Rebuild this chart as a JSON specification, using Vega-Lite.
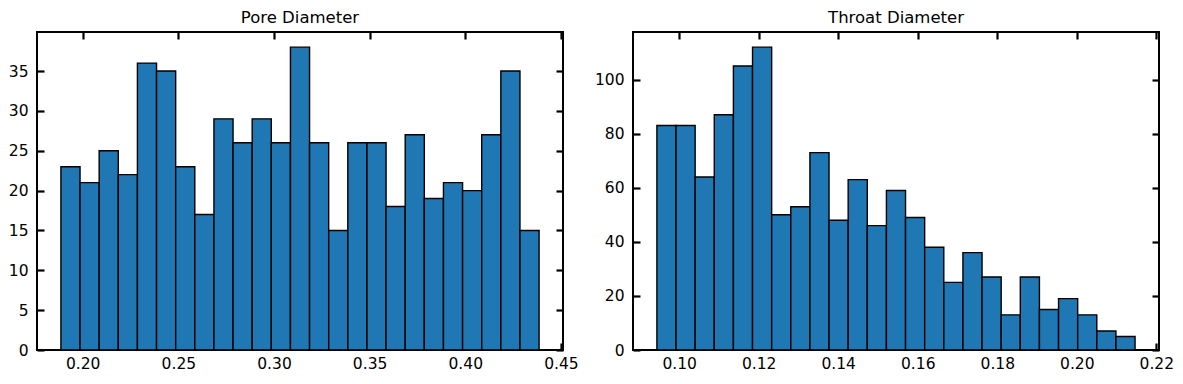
{
  "$schema": "https://vega.github.io/schema/vega-lite/v6.json",
  "padding": {"left": 7, "top": 9, "right": 5, "bottom": 5},
  "background": "white",
  "datasets": {
    "pore": [
      {"lo": 0.1886, "hi": 0.1986, "count": 23},
      {"lo": 0.1986, "hi": 0.2086, "count": 21},
      {"lo": 0.2086, "hi": 0.2186, "count": 25},
      {"lo": 0.2186, "hi": 0.2286, "count": 22},
      {"lo": 0.2286, "hi": 0.2386, "count": 36},
      {"lo": 0.2386, "hi": 0.2486, "count": 35},
      {"lo": 0.2486, "hi": 0.2586, "count": 23},
      {"lo": 0.2586, "hi": 0.2686, "count": 17},
      {"lo": 0.2686, "hi": 0.2786, "count": 29},
      {"lo": 0.2786, "hi": 0.2886, "count": 26},
      {"lo": 0.2886, "hi": 0.2986, "count": 29},
      {"lo": 0.2986, "hi": 0.3086, "count": 26},
      {"lo": 0.3086, "hi": 0.3186, "count": 38},
      {"lo": 0.3186, "hi": 0.3286, "count": 26},
      {"lo": 0.3286, "hi": 0.3386, "count": 15},
      {"lo": 0.3386, "hi": 0.3486, "count": 26},
      {"lo": 0.3486, "hi": 0.3586, "count": 26},
      {"lo": 0.3586, "hi": 0.3686, "count": 18},
      {"lo": 0.3686, "hi": 0.3786, "count": 27},
      {"lo": 0.3786, "hi": 0.3886, "count": 19},
      {"lo": 0.3886, "hi": 0.3986, "count": 21},
      {"lo": 0.3986, "hi": 0.4086, "count": 20},
      {"lo": 0.4086, "hi": 0.4186, "count": 27},
      {"lo": 0.4186, "hi": 0.4286, "count": 35},
      {"lo": 0.4286, "hi": 0.4386, "count": 15}
    ],
    "throat": [
      {"lo": 0.0944, "hi": 0.09921, "count": 83},
      {"lo": 0.09921, "hi": 0.10402, "count": 83},
      {"lo": 0.10402, "hi": 0.10883, "count": 64},
      {"lo": 0.10883, "hi": 0.11364, "count": 87},
      {"lo": 0.11364, "hi": 0.11845, "count": 105},
      {"lo": 0.11845, "hi": 0.12326, "count": 112},
      {"lo": 0.12326, "hi": 0.12807, "count": 50},
      {"lo": 0.12807, "hi": 0.13288, "count": 53},
      {"lo": 0.13288, "hi": 0.13769, "count": 73},
      {"lo": 0.13769, "hi": 0.1425, "count": 48},
      {"lo": 0.1425, "hi": 0.14731, "count": 63},
      {"lo": 0.14731, "hi": 0.15212, "count": 46},
      {"lo": 0.15212, "hi": 0.15693, "count": 59},
      {"lo": 0.15693, "hi": 0.16174, "count": 49},
      {"lo": 0.16174, "hi": 0.16655, "count": 38},
      {"lo": 0.16655, "hi": 0.17136, "count": 25},
      {"lo": 0.17136, "hi": 0.17617, "count": 36},
      {"lo": 0.17617, "hi": 0.18098, "count": 27},
      {"lo": 0.18098, "hi": 0.18579, "count": 13},
      {"lo": 0.18579, "hi": 0.1906, "count": 27},
      {"lo": 0.1906, "hi": 0.19541, "count": 15},
      {"lo": 0.19541, "hi": 0.20022, "count": 19},
      {"lo": 0.20022, "hi": 0.20503, "count": 13},
      {"lo": 0.20503, "hi": 0.20984, "count": 7},
      {"lo": 0.20984, "hi": 0.21465, "count": 5}
    ]
  },
  "config": {
    "font": "DejaVu Sans",
    "view": {"stroke": "black", "strokeWidth": 2},
    "axis": {
      "grid": false,
      "domain": false,
      "ticks": true,
      "tickColor": "black",
      "tickWidth": 2.2,
      "tickSize": 7,
      "offset": -7,
      "labelFont": "DejaVu Sans",
      "labelFontSize": 15.5,
      "labelColor": "black",
      "title": null
    },
    "axisLeft": {"labelPadding": 9},
    "axisBottom": {"labelPadding": 6},
    "title": {"font": "DejaVu Sans", "fontSize": 16.5, "fontWeight": "normal", "color": "black", "offset": 4}
  },
  "bounds": "flush",
  "spacing": 70,
  "hconcat": [
    {
      "title": "Pore Diameter",
      "width": 526,
      "height": 318,
      "data": {"name": "pore"},
      "resolve": {"axis": {"x": "independent", "y": "independent"}},
      "layer": [
        {
          "mark": {"type": "bar", "fill": "#1f77b4", "stroke": "black", "strokeWidth": 1.4},
          "encoding": {
            "x": {"field": "lo", "type": "quantitative", "scale": {"domain": [0.1761, 0.4511], "nice": false, "zero": false},
                  "axis": {"orient": "bottom", "values": [0.2, 0.25, 0.3, 0.35, 0.4, 0.45], "format": ".2f"}},
            "x2": {"field": "hi"},
            "y": {"field": "count", "type": "quantitative", "scale": {"domain": [0, 39.9], "nice": false},
                  "axis": {"orient": "left", "values": [0, 5, 10, 15, 20, 25, 30, 35]}},
            "y2": {"datum": 0}
          }
        },
        {
          "mark": {"type": "bar", "opacity": 0},
          "encoding": {
            "x": {"field": "lo", "type": "quantitative",
                  "axis": {"orient": "top", "labels": false, "values": [0.2, 0.25, 0.3, 0.35, 0.4, 0.45]}},
            "x2": {"field": "hi"},
            "y": {"field": "count", "type": "quantitative",
                  "axis": {"orient": "right", "labels": false, "values": [0, 5, 10, 15, 20, 25, 30, 35]}},
            "y2": {"datum": 0}
          }
        }
      ]
    },
    {
      "title": "Throat Diameter",
      "width": 526,
      "height": 318,
      "data": {"name": "throat"},
      "resolve": {"axis": {"x": "independent", "y": "independent"}},
      "layer": [
        {
          "mark": {"type": "bar", "fill": "#1f77b4", "stroke": "black", "strokeWidth": 1.4},
          "encoding": {
            "x": {"field": "lo", "type": "quantitative", "scale": {"domain": [0.08839, 0.22067], "nice": false, "zero": false},
                  "axis": {"orient": "bottom", "values": [0.1, 0.12, 0.14, 0.16, 0.18, 0.2, 0.22], "format": ".2f"}},
            "x2": {"field": "hi"},
            "y": {"field": "count", "type": "quantitative", "scale": {"domain": [0, 117.6], "nice": false},
                  "axis": {"orient": "left", "values": [0, 20, 40, 60, 80, 100]}},
            "y2": {"datum": 0}
          }
        },
        {
          "mark": {"type": "bar", "opacity": 0},
          "encoding": {
            "x": {"field": "lo", "type": "quantitative",
                  "axis": {"orient": "top", "labels": false, "values": [0.1, 0.12, 0.14, 0.16, 0.18, 0.2, 0.22]}},
            "x2": {"field": "hi"},
            "y": {"field": "count", "type": "quantitative",
                  "axis": {"orient": "right", "labels": false, "values": [0, 20, 40, 60, 80, 100]}},
            "y2": {"datum": 0}
          }
        }
      ]
    }
  ]
}
